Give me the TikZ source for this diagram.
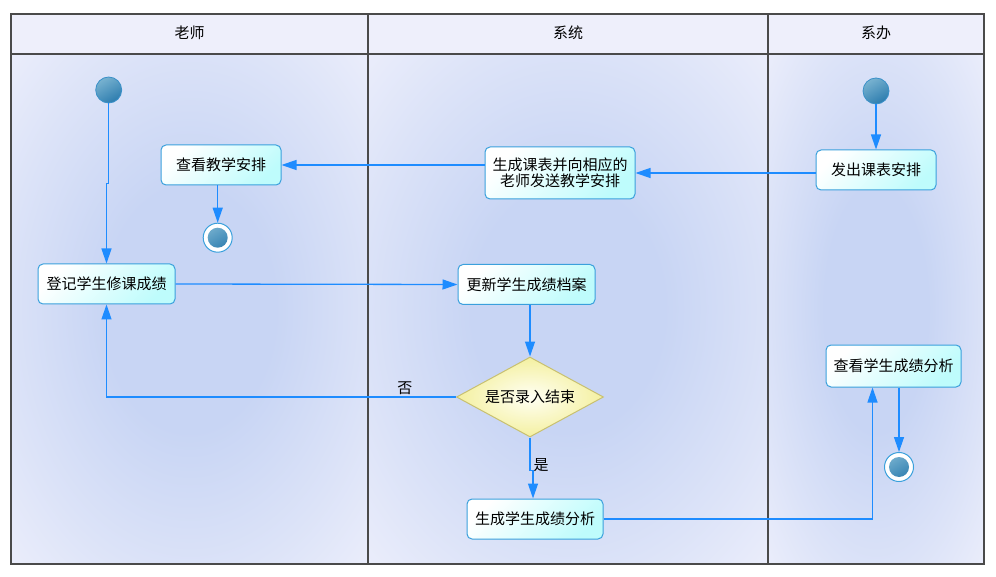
\documentclass[tikz,border=0pt]{standalone}
\usepackage{fontspec}
\setmainfont{Noto Sans CJK SC}
\usetikzlibrary{arrows.meta,shapes.geometric,calc}
\definecolor{frameC}{HTML}{4A4A4A}
\definecolor{lineC}{HTML}{1E8CFF}
\definecolor{boxB}{HTML}{3AA0DC}
\definecolor{boxC}{HTML}{BEFCFC}
\definecolor{laneOut}{HTML}{F0F1FC}
\definecolor{laneIn}{HTML}{C8D5F4}
\definecolor{laneMid}{HTML}{DCE3F8}
\definecolor{headC}{HTML}{EEEFFB}
\definecolor{dmB}{HTML}{C8C070}
\definecolor{dmIn}{HTML}{FFFFF4}
\definecolor{dmOut}{HTML}{F4F0A0}
\definecolor{ballA}{HTML}{78B2D0}
\definecolor{ballB}{HTML}{2C7CAE}
\definecolor{ballE}{HTML}{3A90C8}
\pgfdeclareradialshading{lanesh}{\pgfpoint{0bp}{0bp}}{color(0bp)=(laneIn); color(12bp)=(laneIn); color(26bp)=(laneMid); color(39bp)=(laneOut); color(50bp)=(laneOut)}
\begin{document}
\begin{tikzpicture}[x=1pt,y=-1pt,
  font=\fontsize{15}{15.5}\selectfont,
  act/.style={draw=boxB, line width=1pt, rounded corners=5pt,
    top color=white, bottom color=boxC, shading angle=45,
    minimum height=40pt, inner sep=0pt, align=center, text=black},
  flow/.style={draw=lineC, line width=1.3pt,
    -{Triangle[length=15pt,width=10pt]}},
  startnode/.style={circle, draw=ballE, line width=0.8pt, minimum size=26pt,
    inner sep=0pt, top color=ballA, bottom color=ballB, shading angle=30},
  endnode/.style={circle, draw=boxB, line width=1pt, fill=white,
    minimum size=29pt, inner sep=0pt,
    path picture={\shade[top color=ballA, bottom color=ballB, shading angle=30]
      (path picture bounding box.center) circle (10pt);}},
  lanebg/.style={shading=lanesh},
  frame/.style={draw=frameC, line width=1.2pt}
]
\useasboundingbox (0,0) rectangle (996,577);
\fill[white] (0,0) rectangle (996,577);
% lane backgrounds
\shade[lanebg] (11,54) rectangle (368,564);
\shade[lanebg] (368,54) rectangle (768,564);
\shade[lanebg] (768,54) rectangle (984,564);
\fill[headC] (11,14) rectangle (984,54);
% frame
\draw[frame] (11,14) rectangle (984,564);
\draw[frame] (11,54) -- (984,54);
\draw[frame] (368,14) -- (368,564);
\draw[frame] (768,14) -- (768,564);
\node (h1) at (189.5,33) {老师};
\node (h2) at (568,33) {系统};
\node (h3) at (876,33) {系办};

% nodes
\node[startnode] (s1) at (108.7,90) {};
\node[act, minimum width=120pt] (ck) at (221,165) {查看教学安排};
\node[endnode] (e1) at (217.7,237.7) {};
\node[act, minimum width=137pt] (dj) at (106.5,284) {登记学生修课成绩};
\node[act, minimum width=150pt, minimum height=52pt] (sc) at (560,173)
  {生成课表并向相应的\\老师发送教学安排};
\node[act, minimum width=137pt] (gx) at (526.5,284.5) {更新学生成绩档案};
\node[diamond, draw=dmB, line width=1pt, inner color=dmIn, outer color=dmOut,
  minimum width=147pt, minimum height=80pt, inner sep=0pt, aspect=1.84] (dm)
  at (530,397) {是否录入结束};
\node[act, minimum width=136pt] (sa) at (535,519) {生成学生成绩分析};
\node[startnode] (s2) at (876,91) {};
\node[act, minimum width=120pt] (fc) at (876,170) {发出课表安排};
\node[act, minimum width=135pt, minimum height=42pt] (qx) at (893.5,366) {查看学生成绩分析};
\node[endnode] (e2) at (899,467) {};

% connectors
\draw[flow] (s1.south) -- ++(0,80) -| (dj.north);
\draw[flow] (s2) -- (fc);
\draw[flow] (fc.west |- sc.east) -- (sc.east);
\draw[flow] (sc.west |- ck.east) -- (ck.east);
\draw[flow] (e1 |- ck.south) -- (e1);
\draw[flow] (dj.east) -- (gx.west);
\draw[flow] (dm |- gx.south) -- (dm.north);
\draw[flow] (dm.west) -| node[pos=0.073, above, inner sep=2pt] {否} (dj.south);
\draw[flow] (dm.south) -- node[pos=0.85, right, inner sep=3pt] {是} ++(0,33)
  -| ([xshift=-2pt]sa.north);
\draw[flow] (sa.east) -| ([xshift=-21pt]qx.south);
\draw[flow] (e2 |- qx.south) -- (e2);
\end{tikzpicture}
\end{document}
